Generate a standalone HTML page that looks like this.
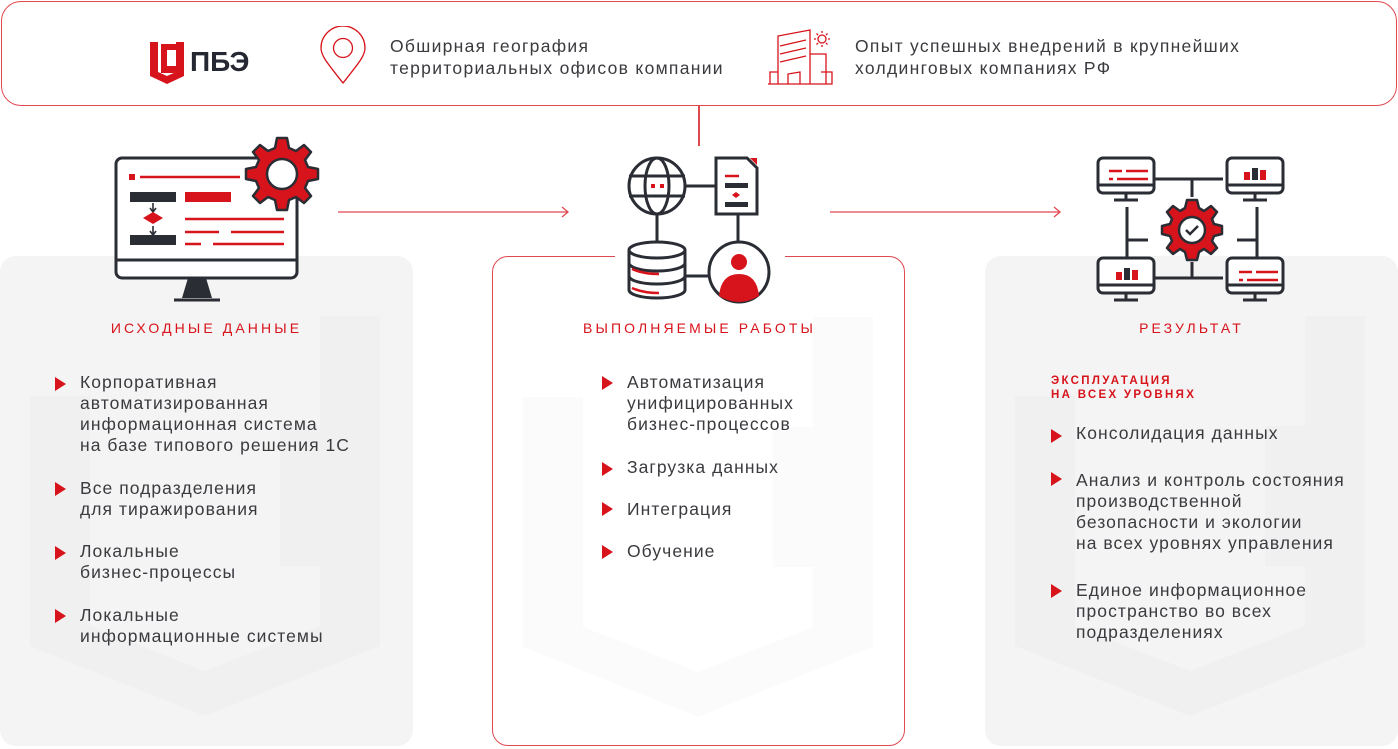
<!DOCTYPE html>
<html><head><meta charset="utf-8">
<style>
*{margin:0;padding:0;box-sizing:border-box}
body{width:1398px;height:749px;background:#fff;position:relative;overflow:hidden;font-family:"Liberation Sans","Noto Sans CJK SC",sans-serif;color:#3a3a3f}
.abs{position:absolute}
.panel{position:absolute;top:256px;width:413px;height:490px;border-radius:16px;background:#f4f4f4;overflow:hidden}
.title{position:absolute;top:320px;font-size:14px;color:#d7131b;letter-spacing:3.1px;text-align:center;width:413px}
.li{position:absolute;font-size:17.5px;line-height:21px;letter-spacing:1.05px;color:#3a3a3f;white-space:nowrap}
.tri{position:absolute;width:0;height:0;border-top:7px solid transparent;border-bottom:7px solid transparent;border-left:11px solid #d7131b}
.htext{position:absolute;font-size:17.5px;line-height:22px;letter-spacing:1.3px;color:#3a3a3f;white-space:nowrap}
</style></head><body>

<div class="abs" style="left:1px;top:1px;width:1396px;height:105px;border:1.5px solid #e0484f;border-radius:20px"></div>
<div class="abs" style="left:698px;top:106px;width:1.5px;height:40px;background:#e0484f"></div>

<svg class="abs" style="left:148px;top:38px" width="120" height="48" viewBox="0 0 120 48">
<path d="M2 4 H10 V34 L19 38 L28 34 V4 H36 V38 L19 46 L2 38 Z" fill="#d7131b"/>
<path d="M13 6 H33 V12 H19 V28 H33 V32 L26 35 H13 Z" fill="#d7131b"/>
<text x="42" y="33" font-family="Liberation Sans" font-weight="bold" font-size="28" fill="#252833">ПБЭ</text>
</svg>
<svg class="abs" style="left:318px;top:26px" width="50" height="60" viewBox="0 0 50 60">
<path d="M25 57 C10 38 3 30 3 22 A22 22 0 0 1 47 22 C47 30 40 38 25 57Z" fill="none" stroke="#d7131b" stroke-width="1.3"/>
<circle cx="25" cy="22" r="9.5" fill="none" stroke="#d7131b" stroke-width="1.3"/>
</svg>
<div class="htext" style="left:390px;top:35px">Обширная география<br>территориальных офисов компании</div>
<svg class="abs" style="left:766px;top:26px" width="70" height="60" viewBox="0 0 70 60">
<g fill="none" stroke="#d7131b" stroke-width="1.3">
<path d="M4 58 V46 H12 V58 M12 58 V10 L44 4 V58 M44 58 V28 H60 V58"/>
<path d="M14 20 L40 14 M14 28 L40 22 M14 36 L40 30"/>
<path d="M22 58 V48 L34 46 V58"/>
<path d="M55 46 H66 V58 H2"/>
<circle cx="56" cy="13" r="4"/>
<path d="M56 5 V7 M56 19 V21 M48 13 H50 M62 13 H64 M50.5 7.5 L52 9 M60 17 L61.5 18.5 M61.5 7.5 L60 9 M52 17 L50.5 18.5"/>
</g></svg>
<div class="htext" style="left:855px;top:35px">Опыт успешных внедрений в крупнейших<br>холдинговых компаниях РФ</div>

<div class="panel" style="left:0">
<svg class="abs" style="left:30px;top:60px" width="350" height="400" viewBox="0 0 350 400"><path d="M0 80 H60 V310 L175 355 L290 310 V250 H250 V110 H290 V0 H350 V330 L175 400 L0 330 Z" fill="#f0f0f0"/></svg>
</div>
<div class="panel" style="left:492px;background:#fff;border:1.5px solid #e0484f">
<svg class="abs" style="left:30px;top:60px" width="350" height="400" viewBox="0 0 350 400"><path d="M0 80 H60 V310 L175 355 L290 310 V250 H250 V110 H290 V0 H350 V330 L175 400 L0 330 Z" fill="#fbfbfb"/></svg>
</div>
<div class="panel" style="left:985px">
<svg class="abs" style="left:30px;top:60px" width="350" height="400" viewBox="0 0 350 400"><path d="M0 80 H60 V310 L175 355 L290 310 V250 H250 V110 H290 V0 H350 V330 L175 400 L0 330 Z" fill="#f0f0f0"/></svg>
</div>

<svg class="abs" style="left:336px;top:204px" width="240" height="16"><path d="M2 8 H232 M226 3 L232 8 L226 13" fill="none" stroke="#e0484f" stroke-width="1.3"/></svg>
<svg class="abs" style="left:828px;top:204px" width="240" height="16"><path d="M2 8 H232 M226 3 L232 8 L226 13" fill="none" stroke="#e0484f" stroke-width="1.3"/></svg>

<svg class="abs" style="left:112px;top:136px" width="212" height="170" viewBox="0 0 212 170">
<rect x="4" y="22" width="181" height="120" rx="6" fill="#fff" stroke="#2b2d35" stroke-width="3"/>
<line x1="4" y1="124" x2="185" y2="124" stroke="#2b2d35" stroke-width="3"/>
<path d="M76 142 L70 162 H100 L94 142 Z" fill="#2b2d35"/>
<line x1="62" y1="164" x2="108" y2="164" stroke="#2b2d35" stroke-width="3"/>
<rect x="17" y="38" width="6" height="6" fill="#d7131b"/>
<line x1="28" y1="41" x2="128" y2="41" stroke="#d7131b" stroke-width="2.5"/>
<rect x="18" y="56" width="46" height="10" fill="#2b2d35"/>
<rect x="18" y="99" width="46" height="10" fill="#2b2d35"/>
<path d="M41 67 V75 M38 72 L41 76 L44 72 M41 90 V98 M38 95 L41 99 L44 95" stroke="#2b2d35" stroke-width="1.6" fill="none"/>
<path d="M31 82 L41 76 L51 82 L41 88 Z" fill="#d7131b"/>
<rect x="73" y="56" width="46" height="10" fill="#d7131b"/>
<path d="M73 83 H172 M73 96 H107 M119 96 H172 M73 108 H89 M101 108 H172" stroke="#d7131b" stroke-width="2.5"/>
<g transform="translate(170,38)">
<path d="M-5 -36 H5 L7 -26 L14 -23 L22 -29 L29 -22 L23 -14 L26 -7 L36 -5 V5 L26 7 L23 14 L29 22 L22 29 L14 23 L7 26 L5 36 H-5 L-7 26 L-14 23 L-22 29 L-29 22 L-23 14 L-26 7 L-36 5 V-5 L-26 -7 L-23 -14 L-29 -22 L-22 -29 L-14 -23 L-7 -26 Z" fill="#d7131b" stroke="#2b2d35" stroke-width="2.5" stroke-linejoin="round"/>
<circle r="15" fill="#fff" stroke="#2b2d35" stroke-width="2.5"/>
</g>
</svg>

<svg class="abs" style="left:615px;top:146px" width="170" height="160" viewBox="0 0 170 160">
<rect x="0" y="100" width="170" height="60" fill="#fff"/>
<g stroke="#2b2d35" stroke-width="3" fill="none">
<circle cx="42" cy="40" r="28"/>
<ellipse cx="42" cy="40" rx="12" ry="28"/>
<path d="M14 30 H70 M14 50 H70"/>
<path d="M70 40 H101 M42 68 V98 M123 67 V95 M70 130 H93"/>
<path d="M101 12 H132 L142 22 V68 H101 Z" fill="#fff"/>
<circle cx="124" cy="126" r="30" fill="#fff"/>
<path d="M14 104 A28 8 0 0 1 70 104 V144 A28 8 0 0 1 14 144 Z" fill="#fff"/>
<path d="M14 104 A28 8 0 0 0 70 104 M14 117 A28 8 0 0 0 70 117 M14 130 A28 8 0 0 0 70 130"/>
</g>
<path d="M135 12 L142 19 V12 Z" fill="#d7131b"/>
<rect x="36" y="38" width="4" height="4" fill="#d7131b"/><rect x="45" y="38" width="4" height="4" fill="#d7131b"/>
<path d="M110 30 H124" stroke="#d7131b" stroke-width="2.5"/>
<rect x="110" y="37" width="23" height="5" fill="#2b2d35"/><rect x="110" y="56" width="23" height="5" fill="#2b2d35"/>
<path d="M117 49 L121 46 L125 49 L121 52Z" fill="#d7131b"/>
<path d="M17 123 Q28 128 44 128 M17 142 Q28 147 44 147" stroke="#d7131b" stroke-width="2.5" fill="none"/>
<circle cx="124" cy="116" r="8" fill="#d7131b"/>
<path d="M104 150 Q106 128 124 128 Q142 128 144 150 Q134 156 124 156 Q114 156 104 150Z" fill="#d7131b"/>
</svg>

<svg class="abs" style="left:1092px;top:152px" width="200" height="150" viewBox="0 0 200 150">
<g stroke="#2b2d35" stroke-width="3" fill="none">
<path d="M54 27 H131 M100 27 V45 M35 55 V118 M35 88 H56 M165 55 V118 M145 88 H165 M100 110 V126 M54 126 H131"/>
</g>
<g id="m">
<rect x="6" y="6" width="56" height="35" rx="5" fill="#fff" stroke="#2b2d35" stroke-width="3"/>
<line x1="6" y1="33" x2="62" y2="33" stroke="#2b2d35" stroke-width="3"/>
<path d="M34 41 V47 M22 48 H46" stroke="#2b2d35" stroke-width="3"/>
</g>
<use href="#m" x="129" y="0"/><use href="#m" x="0" y="100"/><use href="#m" x="129" y="100"/>
<path d="M17 19 H30 M34 19 H56 M17 27 H21 M25 27 H56" stroke="#d7131b" stroke-width="2.5"/>
<path d="M147 120 H160 M164 120 H186 M147 128 H151 M155 128 H186" stroke="#d7131b" stroke-width="2.5"/>
<rect x="152" y="20" width="6" height="8" fill="#d7131b"/><rect x="160" y="16" width="6" height="12" fill="#2b2d35"/><rect x="168" y="18" width="6" height="10" fill="#d7131b"/>
<rect x="24" y="120" width="6" height="8" fill="#d7131b"/><rect x="32" y="116" width="6" height="12" fill="#2b2d35"/><rect x="40" y="118" width="6" height="10" fill="#d7131b"/>
<g transform="translate(100,78)">
<path d="M-5 -30 H5 L7 -22 L12 -19 L19 -24 L25 -18 L20 -11 L22 -6 L30 -4 V4 L22 6 L20 11 L25 18 L19 24 L12 19 L7 22 L5 30 H-5 L-7 22 L-12 19 L-19 24 L-25 18 L-20 11 L-22 6 L-30 4 V-4 L-22 -6 L-20 -11 L-25 -18 L-19 -24 L-12 -19 L-7 -22 Z" fill="#d7131b" stroke="#2b2d35" stroke-width="2.5" stroke-linejoin="round"/>
<circle r="13" fill="#fff" stroke="#2b2d35" stroke-width="2.5"/>
<path d="M-6 0 L-2 4 L6 -4" stroke="#2b2d35" stroke-width="2.5" fill="none"/>
</g>
</svg>

<div class="title" style="left:0">ИСХОДНЫЕ ДАННЫЕ</div>
<div class="title" style="left:493px">ВЫПОЛНЯЕМЫЕ РАБОТЫ</div>
<div class="title" style="left:985px">РЕЗУЛЬТАТ</div>

<div class="tri" style="left:55px;top:377px"></div>
<div class="li" style="left:80px;top:372px">Корпоративная<br>автоматизированная<br>информационная система<br>на базе типового решения 1С</div>
<div class="tri" style="left:55px;top:482px"></div>
<div class="li" style="left:80px;top:478px">Все подразделения<br>для тиражирования</div>
<div class="tri" style="left:55px;top:546px"></div>
<div class="li" style="left:80px;top:541px">Локальные<br>бизнес-процессы</div>
<div class="tri" style="left:55px;top:609px"></div>
<div class="li" style="left:80px;top:605px">Локальные<br>информационные системы</div>

<div class="tri" style="left:602px;top:376px"></div>
<div class="li" style="left:627px;top:372px">Автоматизация<br>унифицированных<br>бизнес-процессов</div>
<div class="tri" style="left:602px;top:462px"></div>
<div class="li" style="left:627px;top:457px">Загрузка данных</div>
<div class="tri" style="left:602px;top:502px"></div>
<div class="li" style="left:627px;top:499px">Интеграция</div>
<div class="tri" style="left:602px;top:545px"></div>
<div class="li" style="left:627px;top:541px">Обучение</div>

<div class="abs" style="left:1051px;top:374px;font-size:11.5px;line-height:14px;letter-spacing:2.3px;color:#d7131b;font-weight:bold">ЭКСПЛУАТАЦИЯ<br>НА ВСЕХ УРОВНЯХ</div>
<div class="tri" style="left:1051px;top:429px"></div>
<div class="li" style="left:1076px;top:423px">Консолидация данных</div>
<div class="tri" style="left:1051px;top:472px"></div>
<div class="li" style="left:1076px;top:470px">Анализ и контроль состояния<br>производственной<br>безопасности и экологии<br>на всех уровнях управления</div>
<div class="tri" style="left:1051px;top:584px"></div>
<div class="li" style="left:1076px;top:580px">Единое информационное<br>пространство во всех<br>подразделениях</div>
</body></html>
